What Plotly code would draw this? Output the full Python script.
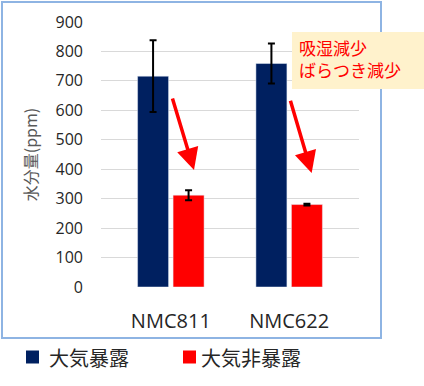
import plotly.graph_objects as go

categories = ["NMC811", "NMC622"]
exposed = [716, 759]
exposed_err = [122, 68]
unexposed = [312, 280]
unexposed_err = [17, 3]
series_names = ["大気暴露", "大気非暴露"]
series_colors = ["#002060", "#FF0000"]
y_ticks = [0, 100, 200, 300, 400, 500, 600, 700, 800, 900]
note_text = "吸湿減少<br>ばらつき減少"

W, H = 424, 386
L, R, T, B = 101, 65, 22, 99
pw, ph = W - L - R, H - T - B

def px(x):
    return (x - L) / pw

def py(y):
    return (H - B - y) / ph

FONT = "Open Sans, Noto Sans CJK JP, sans-serif"
JP = "Noto Sans CJK JP, sans-serif"

fig = go.Figure()
fig.add_trace(go.Bar(
    x=categories, y=exposed, name=series_names[0],
    marker=dict(color=series_colors[0]),
    error_y=dict(type="data", array=exposed_err, color="black", thickness=2, width=3.5),
))
fig.add_trace(go.Bar(
    x=categories, y=unexposed, name=series_names[1],
    marker=dict(color=series_colors[1]),
    error_y=dict(type="data", array=unexposed_err, color="black", thickness=2, width=3.5),
))

shapes = [
    dict(type="rect", xref="paper", yref="paper",
         x0=px(2), x1=px(381), y0=py(338), y1=py(2),
         line=dict(color="#8EB4E3", width=2), fillcolor="rgba(0,0,0,0)", layer="below"),
    dict(type="rect", xref="paper", yref="paper",
         x0=px(292), x1=px(424), y0=py(89), y1=py(32),
         line=dict(width=0), fillcolor="#FFF2CC", layer="above"),
]

annotations = [
    dict(xref="paper", yref="paper", x=px(297), y=py(59), text=note_text,
         showarrow=False, xanchor="left", yanchor="middle", align="left",
         font=dict(family=JP, size=17, color="#FF0000")),
    dict(xref="x", yref="y", axref="x", ayref="y",
         x=0.196, y=397, ax=0.01, ay=645, text="", showarrow=True,
         arrowhead=2, arrowsize=1.25, arrowwidth=3.5, arrowcolor="#FF0000", standoff=0),
    dict(xref="x", yref="y", axref="x", ayref="y",
         x=1.19, y=387, ax=1.007, ay=638, text="", showarrow=True,
         arrowhead=2, arrowsize=1.25, arrowwidth=3.5, arrowcolor="#FF0000", standoff=0),
]

# manual legend
legend_sq_x = [26, 183]
legend_txt_x = [47, 199]
legend_y = 357
for i in range(len(series_names)):
    shapes.append(dict(type="rect", xref="paper", yref="paper",
                       x0=px(legend_sq_x[i]), x1=px(legend_sq_x[i] + 13),
                       y0=py(legend_y + 6.5), y1=py(legend_y - 6.5),
                       line=dict(width=0), fillcolor=series_colors[i]))
    annotations.append(dict(xref="paper", yref="paper", x=px(legend_txt_x[i]), y=py(legend_y),
                            text=series_names[i], showarrow=False, xanchor="left",
                            yanchor="middle",
                            font=dict(family=JP, size=20, color="#262626")))

fig.update_layout(
    width=W, height=H,
    margin=dict(l=L, r=R, t=T, b=B),
    paper_bgcolor="white", plot_bgcolor="white",
    barmode="group", bargap=0.4, bargroupgap=0.127,
    font=dict(family=FONT, color="#262626"),
    showlegend=False,
    xaxis=dict(type="category", range=[-0.59, 1.59], showgrid=False, automargin=False,
               showline=False, ticks="", tickfont=dict(size=20, family=FONT, color="#262626"),
               ticklabelstandoff=20),
    yaxis=dict(range=[0, 900], tickvals=y_ticks, showgrid=True, gridcolor="#D9D9D9",
               gridwidth=1.3, zeroline=False, showline=False, automargin=False,
               tickfont=dict(size=16, family=FONT, color="#262626"), ticklabelstandoff=17,
               title=dict(text="水分量(ppm)", font=dict(family=JP, size=16, color="#595959"),
                          standoff=13)),
    shapes=shapes,
    annotations=annotations,
)

fig.write_html("out.html", config={"displayModeBar": False},
               post_script="document.body.style.margin='0';document.body.style.padding='0';")
